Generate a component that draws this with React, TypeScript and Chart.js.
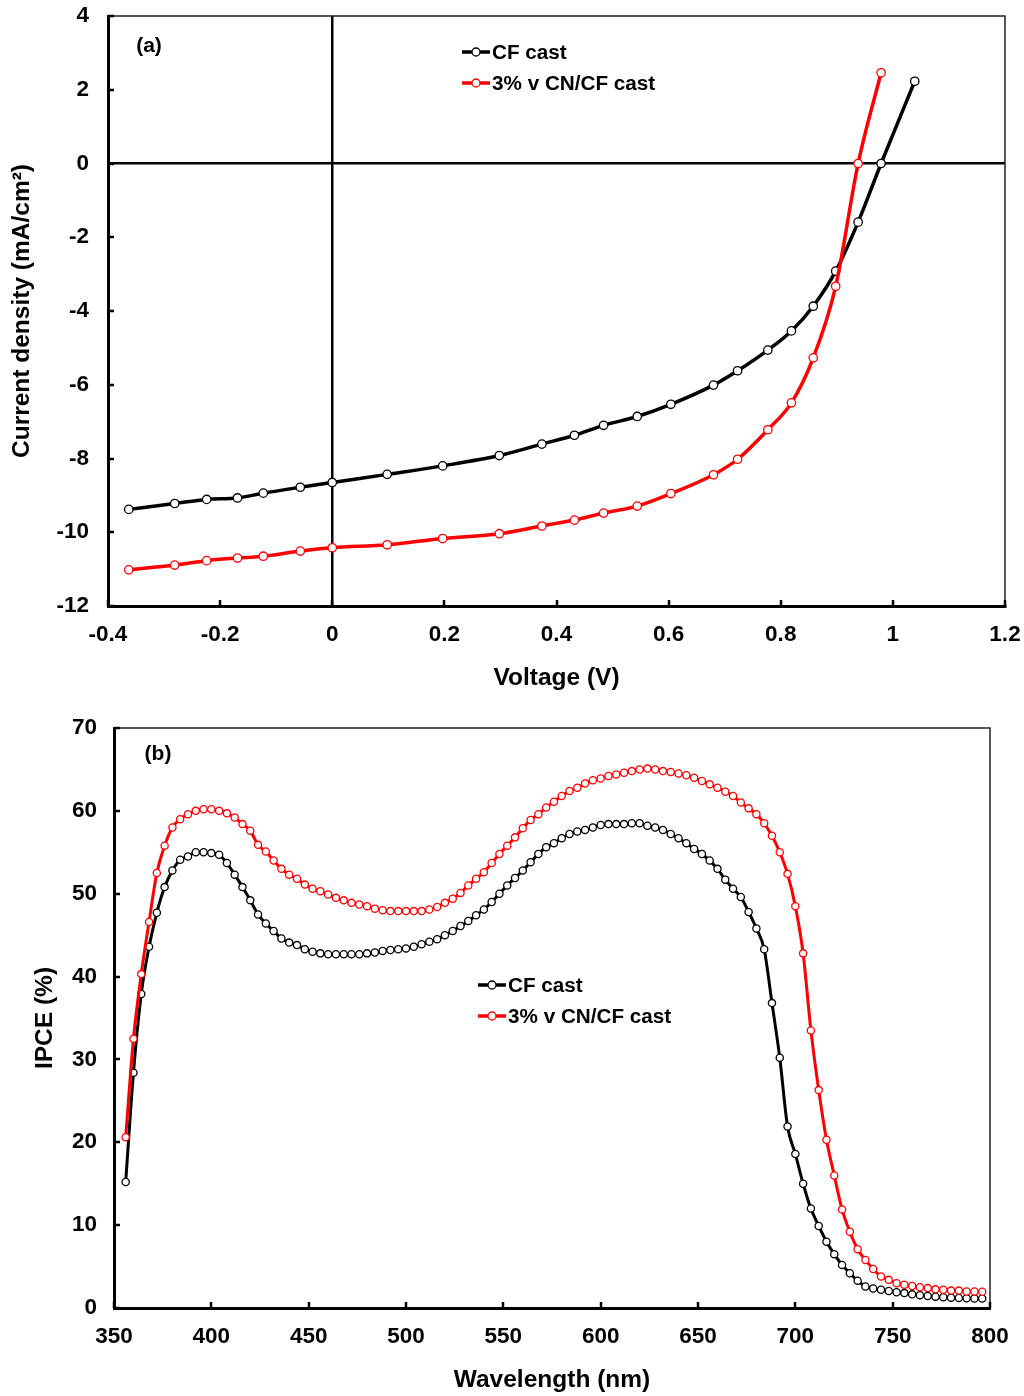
import React, { useEffect, useRef } from "react";
import { Chart, registerables } from "chart.js";

Chart.register(...registerables);

const FONT = '"Liberation Sans", Arial, Helvetica, sans-serif';
Chart.defaults.font.family = FONT;
Chart.defaults.color = "#000";

// ---------- (a) J–V curves ----------
const voltageCF = [-0.363, -0.281, -0.224, -0.169, -0.123, -0.057, 0, 0.098, 0.197, 0.298, 0.374, 0.432, 0.484, 0.544, 0.604, 0.68, 0.723, 0.777, 0.819, 0.858, 0.898, 0.938, 0.979, 1.039];
const currentCF = [-9.38, -9.22, -9.11, -9.07, -8.94, -8.78, -8.65, -8.43, -8.2, -7.92, -7.61, -7.37, -7.1, -6.86, -6.53, -6.01, -5.62, -5.06, -4.54, -3.87, -2.92, -1.59, 0, 2.23];
const voltageCN = [-0.363, -0.281, -0.224, -0.169, -0.123, -0.057, 0, 0.098, 0.197, 0.298, 0.374, 0.432, 0.484, 0.544, 0.604, 0.68, 0.723, 0.777, 0.819, 0.858, 0.898, 0.938, 0.979];
const currentCN = [-11.02, -10.89, -10.77, -10.7, -10.65, -10.51, -10.42, -10.34, -10.17, -10.04, -9.83, -9.67, -9.48, -9.29, -8.95, -8.44, -8.02, -7.22, -6.49, -5.27, -3.33, 0, 2.46];
const jvXTicks = [-0.4, -0.2, 0, 0.2, 0.4, 0.6, 0.8, 1, 1.2];
const jvYTicks = [-12, -10, -8, -6, -4, -2, 0, 2, 4];

// ---------- (b) IPCE spectra ----------
const wavelengths = [
  356, 360, 364, 368, 372, 376, 380, 384, 388, 392,
  396, 400, 404, 408, 412, 416, 420, 424, 428, 432,
  436, 440, 444, 448, 452, 456, 460, 464, 468, 472,
  476, 480, 484, 488, 492, 496, 500, 504, 508, 512,
  516, 520, 524, 528, 532, 536, 540, 544, 548, 552,
  556, 560, 564, 568, 572, 576, 580, 584, 588, 592,
  596, 600, 604, 608, 612, 616, 620, 624, 628, 632,
  636, 640, 644, 648, 652, 656, 660, 664, 668, 672,
  676, 680, 684, 688, 692, 696, 700, 704, 708, 712,
  716, 720, 724, 728, 732, 736, 740, 744, 748, 752,
  756, 760, 764, 768, 772, 776, 780, 784, 788, 792,
  796,
];
const ipceCF = [
  15.2, 28.4, 37.9, 43.6, 47.7, 50.8, 52.8, 54.1, 54.5, 55.0,
  55.0, 54.9, 54.7, 53.7, 52.3, 50.8, 49.2, 47.5, 46.4, 45.5,
  44.6, 44.1, 43.8, 43.3, 43.0, 42.8, 42.7, 42.7, 42.7, 42.7,
  42.7, 42.8, 42.9, 43.1, 43.2, 43.3, 43.4, 43.6, 43.9, 44.2,
  44.5, 45.0, 45.5, 46.1, 46.7, 47.4, 48.1, 49.0, 50.0, 51.0,
  51.9, 52.8, 53.8, 54.8, 55.6, 56.1, 56.7, 57.2, 57.5, 57.7,
  58.0, 58.3, 58.4, 58.4, 58.4, 58.5, 58.5, 58.2, 58.0, 57.7,
  57.2, 56.7, 56.1, 55.4, 54.8, 54.0, 53.0, 51.7, 50.6, 49.6,
  47.8, 45.8, 43.3, 36.8, 30.2, 21.9, 18.6, 15.0, 12.0, 9.9,
  8.0, 6.5, 5.2, 4.2, 3.3, 2.6, 2.35, 2.2, 2.05, 1.9,
  1.8, 1.65, 1.55, 1.45, 1.37, 1.3, 1.25, 1.22, 1.17, 1.15,
  1.15,
];
const ipceCN = [
  20.6, 32.5, 40.3, 46.6, 52.5, 55.8, 58.0, 59.0, 59.6, 60.0,
  60.2, 60.2, 60.0, 59.7, 59.2, 58.4, 57.6, 55.9, 55.1, 54.0,
  53.0, 52.3, 51.8, 51.1, 50.6, 50.3, 49.9, 49.5, 49.2, 48.9,
  48.7, 48.5, 48.2, 48.0, 47.9, 47.9, 47.9, 47.9, 47.9, 48.1,
  48.4, 48.9, 49.4, 50.1, 51.0, 51.8, 52.6, 53.7, 54.8, 55.8,
  56.8, 57.9, 58.9, 59.6, 60.4, 61.1, 61.8, 62.4, 62.8, 63.3,
  63.7, 63.9, 64.2, 64.4, 64.6, 64.8, 65.0, 65.1, 65.0, 64.8,
  64.7, 64.5, 64.3, 64.0, 63.6, 63.2, 62.8, 62.3, 61.8, 61.0,
  60.3, 59.6, 58.5, 57.0, 55.0, 52.4, 48.5, 42.8, 33.5, 26.3,
  20.3, 16.0, 11.9, 9.2, 7.1, 5.8, 4.7, 3.8, 3.4, 3.0,
  2.8, 2.65, 2.5, 2.4, 2.25, 2.2, 2.1, 2.1, 2.0, 2.0,
  1.97,
];
const ipceXTicks = [350, 400, 450, 500, 550, 600, 650, 700, 750, 800];
const ipceYTicks = [0, 10, 20, 30, 40, 50, 60, 70];

const seriesNames = ["CF cast", "3% v CN/CF cast"];
const seriesColors = ["#000000", "#ff0000"];

const TICK_FONT = { size: 22.5, weight: "bold" };
const TITLE_FONT = { size: 24.5, weight: "bold" };

const decorPlugin = {
  id: "decor",
  afterDraw(chart: any, _args: any, opts: any) {
    const { ctx, chartArea: a, scales } = chart;
    ctx.save();
    // thin top/right frame
    ctx.strokeStyle = "#222";
    ctx.lineWidth = 1.5;
    ctx.beginPath();
    ctx.moveTo(a.left, a.top);
    ctx.lineTo(a.right, a.top);
    ctx.lineTo(a.right, a.bottom);
    ctx.stroke();
    // inward tick marks
    ctx.strokeStyle = "#000";
    ctx.lineWidth = 2.5;
    const xs = scales.x;
    const ys = scales.y;
    xs.ticks.forEach((t: any) => {
      const p = Math.round(xs.getPixelForValue(t.value));
      ctx.beginPath();
      ctx.moveTo(p, a.bottom);
      ctx.lineTo(p, a.bottom - 6);
      ctx.stroke();
    });
    ys.ticks.forEach((t: any) => {
      const p = Math.round(ys.getPixelForValue(t.value));
      ctx.beginPath();
      ctx.moveTo(a.left, p);
      ctx.lineTo(a.left + 6, p);
      ctx.stroke();
    });
    // panel label
    ctx.fillStyle = "#000";
    ctx.font = `bold 21px ${FONT}`;
    ctx.textAlign = "center";
    ctx.textBaseline = "middle";
    ctx.fillText(opts.panel, opts.panelX, opts.panelY);
    // legend
    ctx.font = `bold 20.7px ${FONT}`;
    ctx.textAlign = "left";
    seriesNames.forEach((name, i) => {
      const y = opts.legendY + i * opts.legendGap;
      const x0 = opts.legendX;
      ctx.strokeStyle = seriesColors[i];
      ctx.lineWidth = 3.5;
      ctx.beginPath();
      ctx.moveTo(x0, y);
      ctx.lineTo(x0 + 28, y);
      ctx.stroke();
      ctx.beginPath();
      ctx.arc(x0 + 14, y, 4, 0, Math.PI * 2);
      ctx.fillStyle = "#fff";
      ctx.fill();
      ctx.lineWidth = 1.3;
      ctx.stroke();
      ctx.fillStyle = "#000";
      ctx.fillText(name, x0 + 30, y + 1);
    });
    ctx.restore();
  },
};

function makeDataset(xs: number[], ys: number[], i: number, radius: number, width: number) {
  return {
    label: seriesNames[i],
    data: xs.map((x, k) => ({ x, y: ys[k] })),
    borderColor: seriesColors[i],
    backgroundColor: seriesColors[i],
    borderWidth: width,
    pointRadius: radius,
    pointBorderWidth: 1.3,
    pointBorderColor: seriesColors[i],
    pointBackgroundColor: "#ffffff",
    cubicInterpolationMode: "monotone" as const,
    order: i === 1 ? 0 : 1,
  };
}

const zeroColor = (c: any) => (c.tick && c.tick.value === 0 ? "#000" : "rgba(0,0,0,0)");

const noPad = (s: any) => {
  s.paddingTop = 0;
  s.paddingBottom = 0;
  s.paddingLeft = 0;
  s.paddingRight = 0;
};

function jvConfig(): any {
  return {
    type: "line",
    data: {
      datasets: [
        makeDataset(voltageCF, currentCF, 0, 4.2, 3.5),
        makeDataset(voltageCN, currentCN, 1, 4.2, 3.5),
      ],
    },
    plugins: [decorPlugin],
    options: {
      animation: false,
      responsive: false,
      devicePixelRatio: 1,
      layout: { padding: { left: 0, top: 16, right: 19, bottom: 0 } },
      plugins: {
        legend: { display: false },
        tooltip: { enabled: false },
        decor: { panel: "(a)", panelX: 149, panelY: 46, legendX: 462, legendY: 52, legendGap: 31 },
      },
      scales: {
        x: {
          type: "linear",
          min: -0.4,
          max: 1.2,
          afterBuildTicks: (s: any) => { s.ticks = jvXTicks.map((v) => ({ value: v })); },
          afterFit: (s: any) => { s.height = 94; noPad(s); },
          ticks: { callback: (v: any) => String(v), color: "#000", font: TICK_FONT, padding: 15, maxRotation: 0, autoSkip: false },
          grid: { drawTicks: false, color: zeroColor, lineWidth: 2.5 },
          border: { display: true, color: "#000", width: 3 },
          title: { display: true, text: "Voltage (V)", color: "#000", font: TITLE_FONT, padding: { top: 0, bottom: 7 } },
        },
        y: {
          type: "linear",
          min: -12,
          max: 4,
          afterBuildTicks: (s: any) => { s.ticks = jvYTicks.map((v) => ({ value: v })); },
          afterFit: (s: any) => { s.width = 108; noPad(s); },
          ticks: { callback: (v: any) => String(v), color: "#000", font: TICK_FONT, padding: 19, autoSkip: false },
          grid: { drawTicks: false, color: zeroColor, lineWidth: 2.5 },
          border: { display: true, color: "#000", width: 3 },
          title: { display: true, text: "Current density (mA/cm²)", color: "#000", font: TITLE_FONT, padding: { top: 8, bottom: 0 } },
        },
      },
    },
  };
}

function ipceConfig(): any {
  return {
    type: "line",
    data: {
      datasets: [
        makeDataset(wavelengths, ipceCF, 0, 3.6, 3),
        makeDataset(wavelengths, ipceCN, 1, 3.6, 3),
      ],
    },
    plugins: [decorPlugin],
    options: {
      animation: false,
      responsive: false,
      devicePixelRatio: 1,
      layout: { padding: { left: 0, top: 28, right: 34, bottom: 0 } },
      plugins: {
        legend: { display: false },
        tooltip: { enabled: false },
        decor: { panel: "(b)", panelX: 158, panelY: 54, legendX: 478, legendY: 285, legendGap: 31 },
      },
      scales: {
        x: {
          type: "linear",
          min: 350,
          max: 800,
          afterBuildTicks: (s: any) => { s.ticks = ipceXTicks.map((v) => ({ value: v })); },
          afterFit: (s: any) => { s.height = 88; noPad(s); },
          ticks: { callback: (v: any) => String(v), color: "#000", font: TICK_FONT, padding: 15, maxRotation: 0, autoSkip: false },
          grid: { display: false, drawTicks: false },
          border: { display: true, color: "#000", width: 3 },
          title: { display: true, text: "Wavelength (nm)", color: "#000", font: TITLE_FONT, padding: { top: 0, bottom: 1 } },
        },
        y: {
          type: "linear",
          min: 0,
          max: 70,
          afterBuildTicks: (s: any) => { s.ticks = ipceYTicks.map((v) => ({ value: v })); },
          afterFit: (s: any) => { s.width = 114; noPad(s); },
          ticks: { callback: (v: any) => String(v), color: "#000", font: TICK_FONT, padding: 17, autoSkip: false },
          grid: { display: false, drawTicks: false },
          border: { display: true, color: "#000", width: 3 },
          title: { display: true, text: "IPCE (%)", color: "#000", font: TITLE_FONT, padding: { top: 31, bottom: 0 } },
        },
      },
    },
  };
}

function ChartCanvas({ top, width, height, config }: { top: number; width: number; height: number; config: () => any }) {
  const ref = useRef<HTMLCanvasElement>(null);
  useEffect(() => {
    const chart = new Chart(ref.current as HTMLCanvasElement, config());
    return () => chart.destroy();
  }, []);
  return (
    <canvas
      ref={ref}
      width={width}
      height={height}
      style={{ position: "absolute", left: 0, top, width, height, display: "block" }}
    />
  );
}

export default function App() {
  return (
    <div style={{ position: "absolute", left: 0, top: 0, width: 1024, height: 1396, background: "#fff" }}>
      <ChartCanvas top={0} width={1024} height={700} config={jvConfig} />
      <ChartCanvas top={700} width={1024} height={696} config={ipceConfig} />
    </div>
  );
}
